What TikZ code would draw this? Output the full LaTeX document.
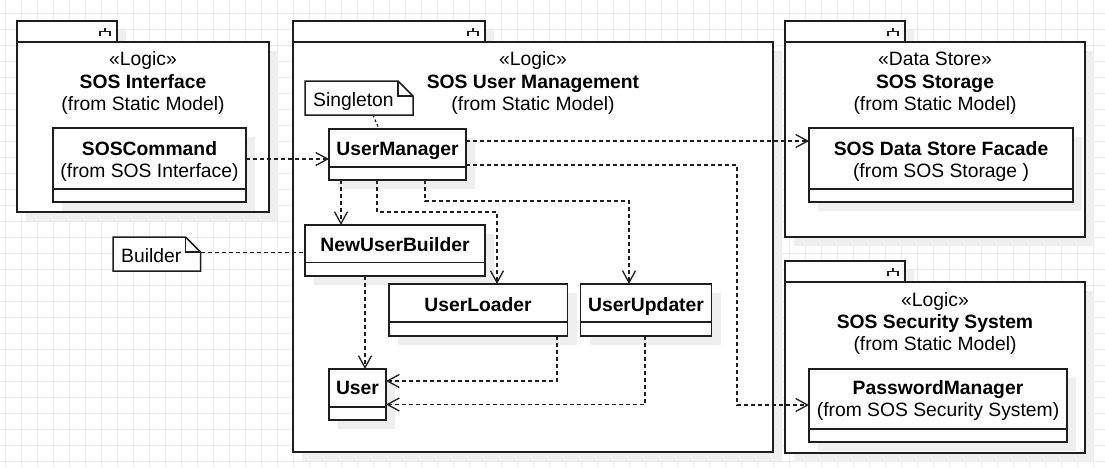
\documentclass[tikz,border=0pt]{standalone}
\usepackage{fontspec}
\setmainfont{Liberation Sans}
\usetikzlibrary{arrows.meta,calc}
\definecolor{gridc}{HTML}{EBEBEB}
\definecolor{shadc}{HTML}{EFEFEF}
\definecolor{linec}{HTML}{1E1E1E}
\newcommand\pkgshape[6]{% name, x1, y1(tab top), tabright, x2, y2
  \fill[shadc] (#2+9,#3+9) rectangle (#4+9,#3+30);
  \fill[shadc] (#2+9,#3+30) rectangle (#5+9,#6+9);
  \draw[solidline, fill=white] (#2,#3) rectangle (#4,#3+21);
  \node[boxnode, minimum width={#5-#2}, minimum height={#6-#3-21}] (#1) at (#2,#3+21) {};
  \draw[solidline, line width=1.2pt] (#4-12,#3+6.5) -- (#4-12,#3+10.5) (#4-17,#3+15) -- (#4-17,#3+10.5) -- (#4-7,#3+10.5) -- (#4-7,#3+15);
}
\newcommand\classbox[6]{% name, x, y, w, h, divider y
  \fill[shadc] (#2+9,#3+9) rectangle (#2+#4+9,#3+#5+9);
  \node[boxnode, minimum width={#4}, minimum height={#5}] (#1) at (#2,#3) {};
  \draw[solidline] (#2,#6) -- (#2+#4,#6);
}
\begin{document}
\begin{tikzpicture}[x=1pt,y=-1pt,
  solidline/.style={draw=linec, line width=1.5pt},
  boxnode/.style={draw=linec, line width=1.5pt, fill=white, inner sep=0pt, outer sep=0pt, anchor=north west},
  ghost/.style={inner sep=0pt, outer sep=0pt, anchor=north west},
  txt/.style={inner sep=0pt, anchor=base, font=\fontsize{19.3}{22}\selectfont},
  txtb/.style={txt, font=\fontsize{19.3}{22}\selectfont\bfseries},
  dashline/.style={draw=linec, line width=1.3pt, dash pattern=on 4pt off 3pt},
  dep/.style={dashline, -{Straight Barb[length=12pt,width=13pt,line width=1.3pt]}},
  anchorline/.style={draw=linec, line width=1.3pt, dash pattern=on 2.5pt off 2.5pt},
  notepath/.style={draw=linec, line width=1.5pt, fill=white}
]
\useasboundingbox (0,0) rectangle (1105,467);
\fill[white] (0,0) rectangle (1105,467);
\begin{scope}
\clip (0,0) rectangle (1105,467);
\foreach \gx in {5,21,...,1105} \draw[gridc, line width=1pt] (\gx,0) -- (\gx,467);
\foreach \gy in {13,29,...,467} \draw[gridc, line width=1pt] (0,\gy) -- (1105,\gy);
\end{scope}

% packages
\pkgshape{pI}{17}{21}{117}{269}{212}
\pkgshape{pU}{293}{21}{485}{773}{452}
\pkgshape{pS}{785}{21}{905}{1085}{237}
\pkgshape{pX}{785}{261}{905}{1085}{453}

\node[txt]  at (143,65) {«Logic»};
\node[txtb] at (143,88) {SOS Interface};
\node[txt]  at (143,110) {(from Static Model)};

\node[txt]  at (533,65) {«Logic»};
\node[txtb] at (533,88) {SOS User Management};
\node[txt]  at (533,110) {(from Static Model)};

\node[txt]  at (935,65) {«Data Store»};
\node[txtb] at (935,88) {SOS Storage};
\node[txt]  at (935,110) {(from Static Model)};

\node[txt]  at (935,306) {«Logic»};
\node[txtb] at (935,328) {SOS Security System};
\node[txt]  at (935,350) {(from Static Model)};

% classes
\classbox{sc}{53}{128}{193}{74}{189}
\node[txtb] at (149.5,155) {SOSCommand};
\node[txt]  at (149.5,177) {(from SOS Interface)};

\classbox{um}{329}{129}{137}{51}{167}
\node[txtb] at (397.5,155.5) {UserManager};

\classbox{nub}{305}{225}{180}{51}{262.5}
\node[txtb] at (395,251) {NewUserBuilder};

\classbox{ul}{389}{284}{178.5}{52}{322}
\node[txtb] at (478,311) {UserLoader};

\classbox{uu}{580.5}{284}{131}{52}{322}
\node[txtb] at (646,311) {UserUpdater};

\classbox{usr}{329}{369}{57}{51}{407}
\node[txtb] at (357.5,394.5) {User};

\classbox{fac}{809}{128}{264}{74}{189}
\node[txtb] at (941,155) {SOS Data Store Facade};
\node[txt]  at (941,177) {(from SOS Storage )};

\classbox{pm}{809}{369}{258}{73}{429}
\node[txtb] at (938,394.5) {PasswordManager};
\node[txt]  at (938,416.5) {(from SOS Security System)};

% notes
\node[ghost, minimum width=108, minimum height=34] (sg) at (305,81) {};
\draw[notepath] (sg.north west) -- ($(sg.north east)+(-15,0)$) -- ($(sg.north east)+(0,15)$) -- (sg.south east) -- (sg.south west) -- cycle;
\draw[solidline] ($(sg.north east)+(-15,0)$) -- ($(sg.north east)+(-15,15)$) -- ($(sg.north east)+(0,15)$);
\node[txt, anchor=base west] at (313,106.5) {Singleton};

\node[ghost, minimum width=87.5, minimum height=34] (bd) at (113,237) {};
\draw[notepath] (bd.north west) -- ($(bd.north east)+(-15,0)$) -- ($(bd.north east)+(0,15)$) -- (bd.south east) -- (bd.south west) -- cycle;
\draw[solidline] ($(bd.north east)+(-15,0)$) -- ($(bd.north east)+(-15,15)$) -- ($(bd.north east)+(0,15)$);
\node[txt, anchor=base west] at (121,262.5) {Builder};

% note anchors
\draw[anchorline] (sg.south -| 373,0) -- (um.north -| 379,0);
\draw[dashline] (bd.east |- 0,252.5) -- (nub.west |- 0,252.5);

% dependencies
\draw[dep] (sc.east |- 0,159) -- (um.west |- 0,159);
\draw[dep] (um.east |- 0,141) -- (fac.west |- 0,141);
\draw[dep] (um.east |- 0,165) -- (737,165) -- (737,405) -- (pm.west |- 0,405);
\draw[dep] (um.south -| 341,0) -- (nub.north -| 341,0);
\draw[dep] (um.south -| 377,0) -- (377,212) -- (497,212) -- (ul.north -| 497,0);
\draw[dep] (um.south -| 425,0) -- (425,201) -- (629,201) -- (uu.north -| 629,0);
\draw[dep] (nub.south -| 365,0) -- (usr.north -| 365,0);
\draw[dep] (ul.south -| 557,0) -- (557,381) -- (usr.east |- 0,381);
\draw[dep] (uu.south -| 645,0) -- (645,404.5) -- (usr.east |- 0,404.5);
\end{tikzpicture}
\end{document}
